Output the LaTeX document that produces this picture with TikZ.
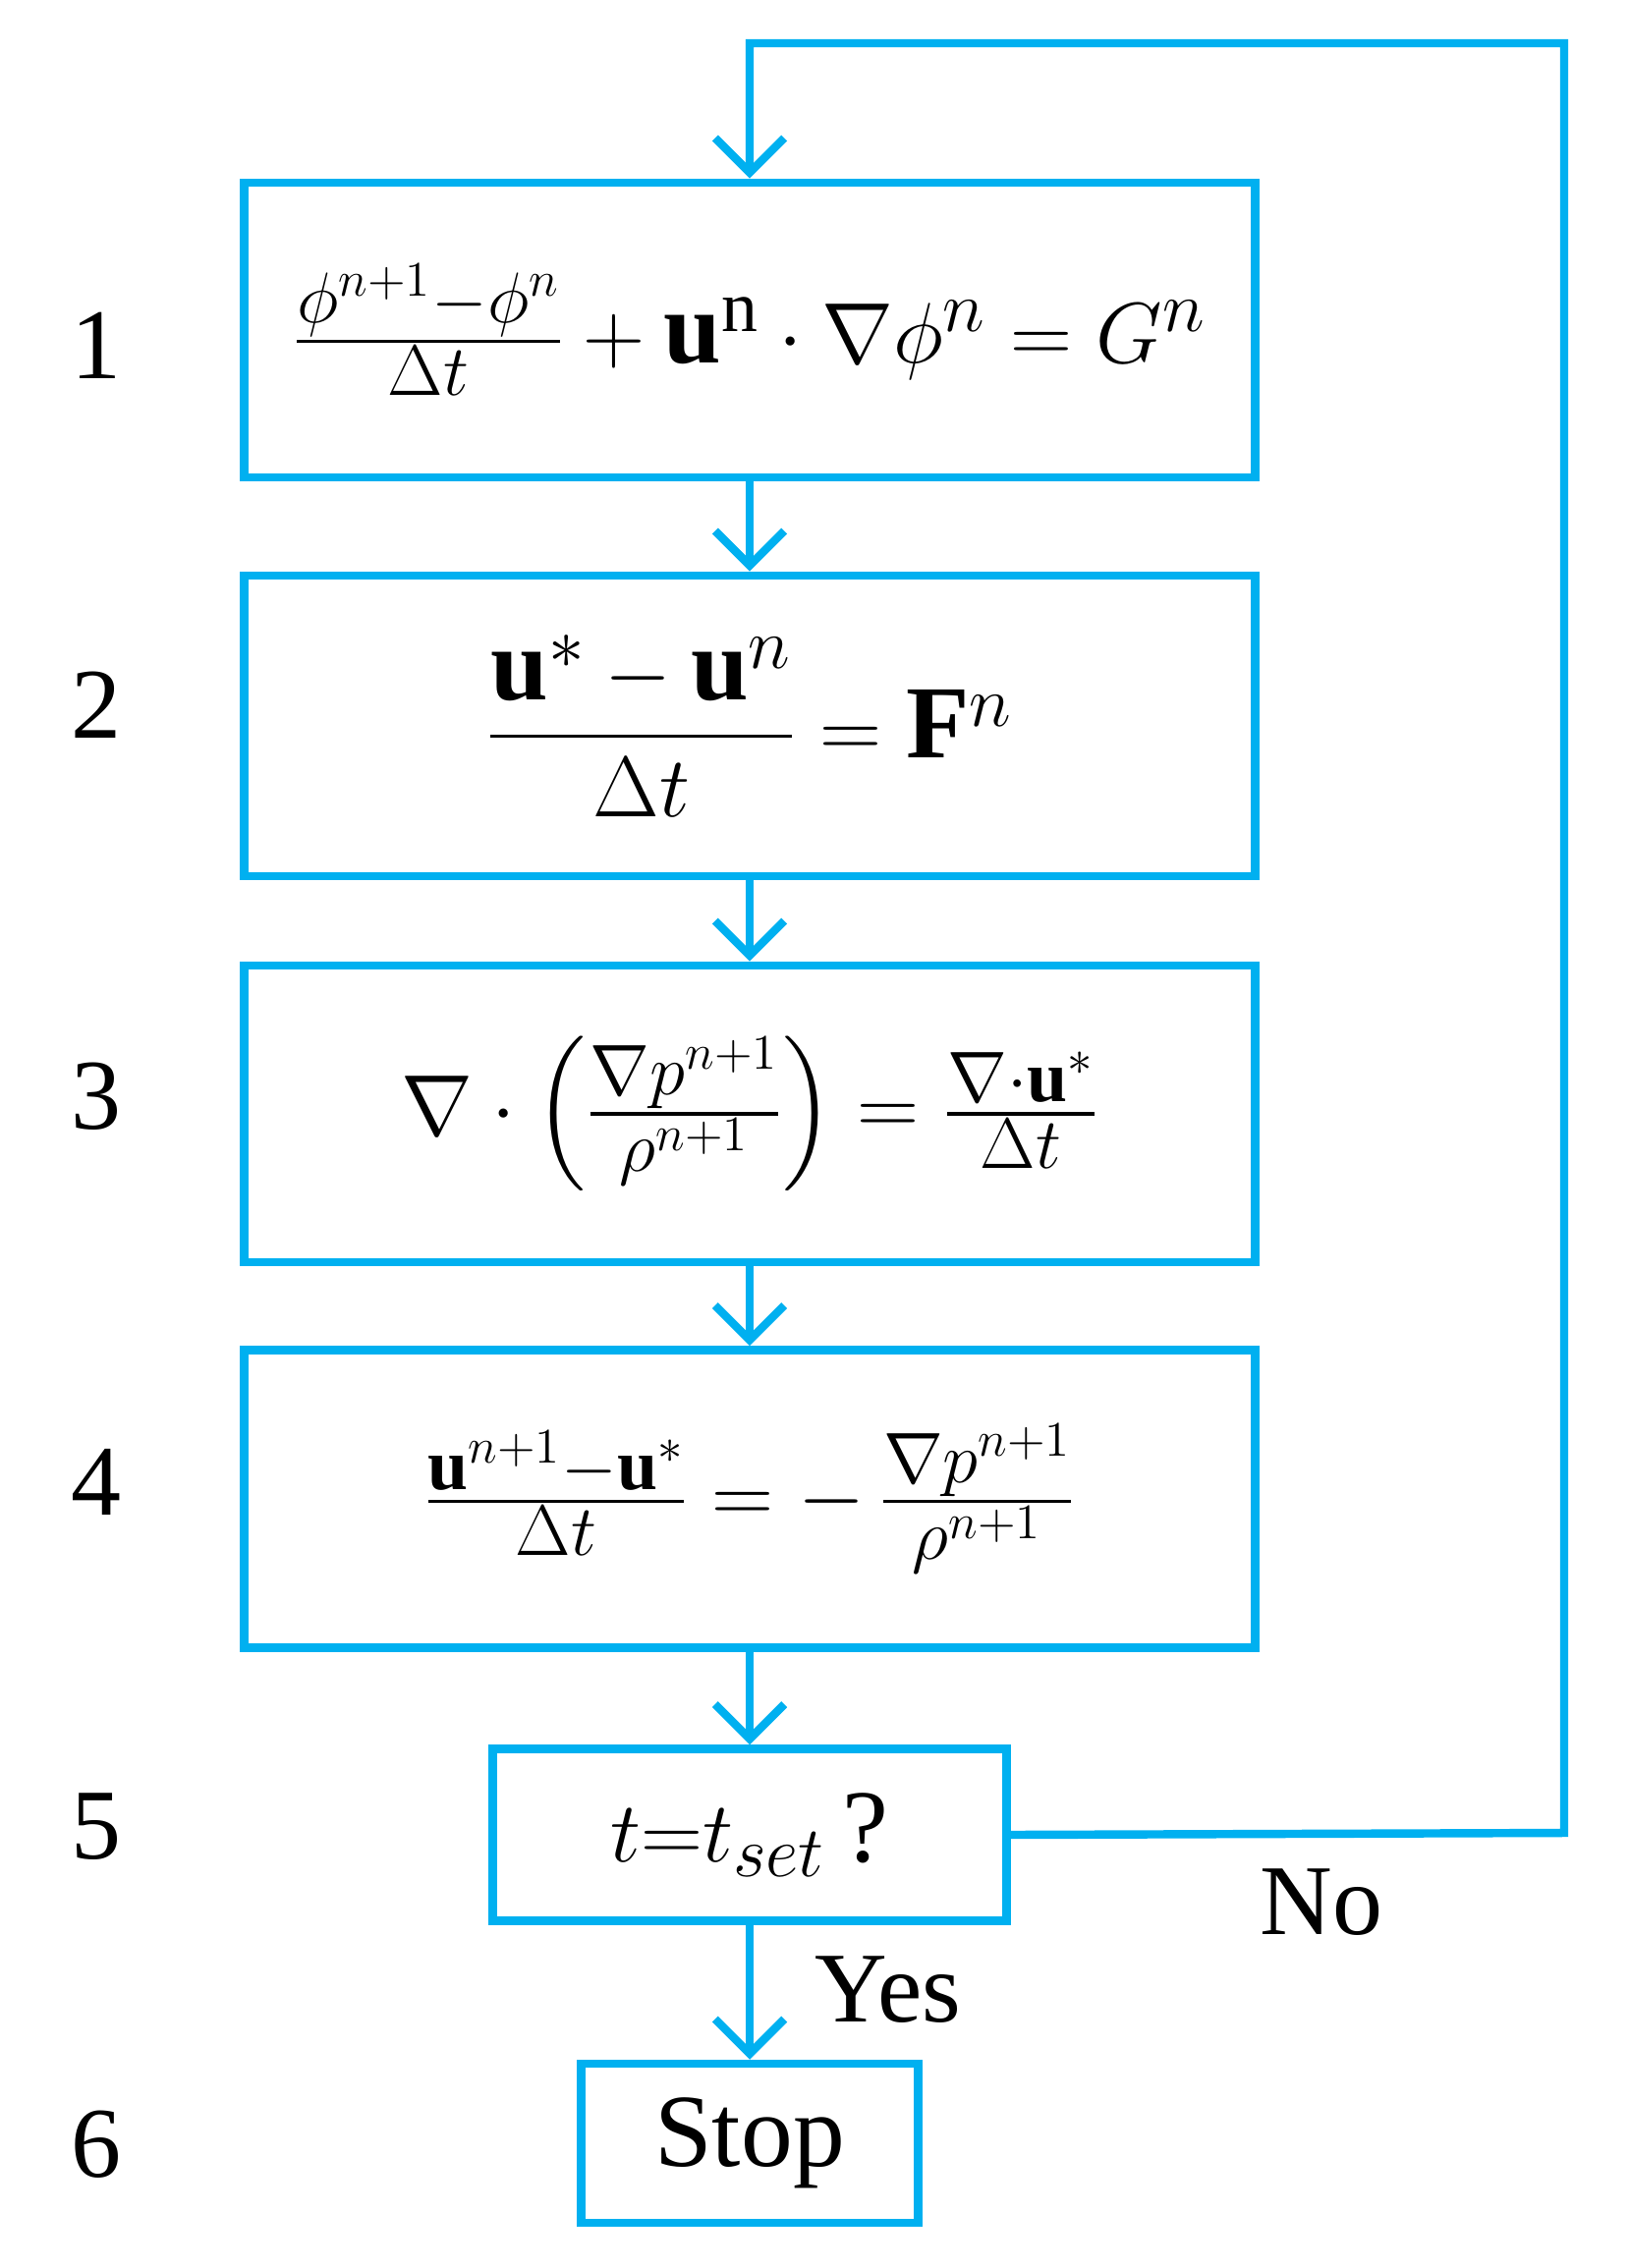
\documentclass[tikz,border=0pt]{standalone}
\usepackage{amsmath,bm}
\usepackage{fontspec}
\setmainfont{Liberation Serif}
\usetikzlibrary{arrows.meta}
\definecolor{fc}{RGB}{0,176,240}
\begin{document}
\begin{tikzpicture}[x=0.01cm,y=-0.01cm,
  box/.style={draw=fc,line width=2.4pt,align=center,inner sep=0pt,font=\fontsize{30}{34}\selectfont},
  arr/.style={draw=fc,line width=2.4pt,-{Straight Barb[length=10pt,width=20pt,line width=2.4pt]}},
  lab/.style={font=\fontsize{29}{34}\selectfont}]
\useasboundingbox (0,0) rectangle (1658,2309);
\node[box,minimum width=10.28cm,minimum height=3.0cm] (b1) at (763,336) {$\frac{\phi^{n+1}-\phi^{n}}{\Delta t}+\mathbf{u}^{\mathrm{n}}\cdot\nabla\phi^{n}=G^{n}$};
\node[box,minimum width=10.28cm,minimum height=3.06cm] (b2) at (763,739) {$\dfrac{\mathbf{u}^{*}-\mathbf{u}^{n}}{\Delta t}=\mathbf{F}^{n}$};
\node[box,minimum width=10.28cm,minimum height=3.02cm] (b3) at (763,1134) {$\nabla\cdot\left(\frac{\nabla p^{n+1}}{\rho^{n+1}}\right)=\frac{\nabla\cdot\mathbf{u}^{*}}{\Delta t}$};
\node[box,minimum width=10.28cm,minimum height=3.03cm] (b4) at (763,1526) {$\frac{\mathbf{u}^{n+1}-\mathbf{u}^{*}}{\Delta t}=-\,\frac{\nabla p^{n+1}}{\rho^{n+1}}$};
\node[box,minimum width=5.23cm,minimum height=1.75cm] (b5) at (763,1868) {$t{=}t_{set}$\,?};
\node[box,minimum width=3.43cm,minimum height=1.62cm] (b6) at (763,2182) {Stop};
\coordinate (c1) at (1592,1866);
\coordinate (c2) at (1592,44);
\coordinate (c3) at (763,44);
\draw[arr] (b1) -- (b2);
\draw[arr] (b2) -- (b3);
\draw[arr] (b3) -- (b4);
\draw[arr] (b4) -- (b5);
\draw[arr] (b5) -- (b6);
\draw[arr] (b5.east) -- (c1) -- (c2) -- (c3) -- (b1.north);
\node[lab] (l1) at (98,352) {1};
\node[lab] (l2) at (98,718) {2};
\node[lab] (l3) at (98,1116) {3};
\node[lab] (l4) at (98,1509) {4};
\node[lab] (l5) at (98,1860) {5};
\node[lab] (l6) at (98,2183) {6};
\node[lab] (no) at (1345,1937) {No};
\node[lab] (yes) at (904,2026) {Yes};
\end{tikzpicture}
\end{document}
